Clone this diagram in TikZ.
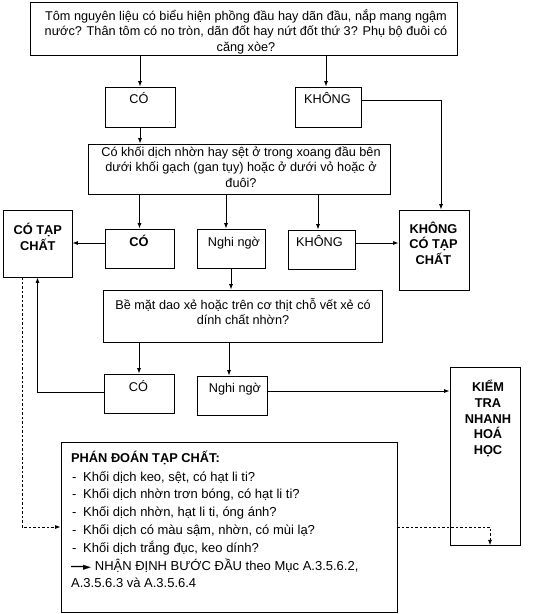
\documentclass[tikz,border=0pt]{standalone}
\usepackage{fontspec}
\setmainfont{Liberation Sans}
\newfontfamily\dejavu{DejaVu Sans}
\usetikzlibrary{arrows.meta,calc}
\begin{document}
\begin{tikzpicture}[x=1pt,y=-1pt,
  bx/.style 2 args={draw, line width=0.8pt, inner sep=0pt, minimum width=#1, minimum height=#2},
  txt/.style={font=\fontsize{12.7}{15.6}\selectfont, align=center, inner sep=0pt},
  btxt/.style={font=\fontsize{12.8}{15.4}\selectfont\bfseries, align=center, inner sep=0pt},
  ltxt/.style={font=\fontsize{13}{15}\selectfont, inner sep=0pt, anchor=base west},
  arr/.style={line width=0.8pt, -{Latex[length=5.5pt,width=4pt]}},
  darr/.style={line width=0.8pt, dash pattern=on 2.5pt off 2pt, -{Latex[length=5.5pt,width=4pt]}}]
\useasboundingbox (0,0) rectangle (555,614);
\fill[white] (0,0) rectangle (555,614);
% boxes
\node[bx={427}{53}] (top) at (243.5,28.5) {};
\node[bx={70}{40}] (co1) at (140,107) {};
\node[bx={66}{40}] (kh1) at (328,107) {};
\node[bx={302}{50}] (q2) at (239,169) {};
\node[bx={69}{39}] (co2) at (139.5,248.5) {};
\node[bx={68}{39}] (ng2) at (231,248.5) {};
\node[bx={67}{39}] (kh2) at (321.5,249.5) {};
\node[bx={69}{67}] (ctc) at (37.5,243.5) {};
\node[bx={70}{80}] (kctc) at (434,250) {};
\node[bx={279}{52}] (q3) at (242.5,316) {};
\node[bx={70}{39}] (co3) at (139,393.5) {};
\node[bx={70}{39}] (ng3) at (232,395.5) {};
\node[bx={70}{178}] (ktnh) at (485,456) {};
\node[bx={336}{170}] (bot) at (229,527) {};
% texts
\node[txt] (ttop) at (246,31.5) {Tôm nguyên liệu có biểu hiện phồng đầu hay dãn đầu, nắp mang ngậm\\ nước? Thân tôm có no tròn, dãn đốt hay nứt đốt thứ 3? Phụ bộ đuôi có\\ căng xòe?};
\node[txt, anchor=base] (tco1) at (139,103.5) {CÓ};
\node[txt, anchor=base] (tkh1) at (327.5,103.5) {KHÔNG};
\node[txt] (tq2) at (241,167) {Có khối dịch nhờn hay sệt ở trong xoang đầu bên\\ dưới khối gạch (gan tụy) hoặc ở dưới vỏ hoặc ở\\ đuôi?};
\node[btxt, anchor=base] (tco2) at (139,246.5) {CÓ};
\node[txt, anchor=base] (tng2) at (234,246.5) {Nghi ngờ};
\node[txt, anchor=base] (tkh2) at (319.5,246.5) {KHÔNG};
\node[btxt] (tctc) at (37.8,237) {CÓ TẠP\\ CHẤT};
\node[btxt] (tkctc) at (433.5,243) {KHÔNG\\ CÓ TẠP\\ CHẤT};
\node[txt] (tq3) at (243,311.5) {Bề mặt dao xẻ hoặc trên cơ thịt chỗ vết xẻ có\\ dính chất nhờn?};
\node[txt, anchor=base] (tco3) at (138.5,391.5) {CÓ};
\node[txt, anchor=base] (tng3) at (235,392.5) {Nghi ngờ};
\node[btxt, font=\fontsize{12.8}{15.8}\selectfont\bfseries] (tktnh) at (488,418.5) {KIỂM\\ TRA\\ NHANH\\ HOÁ\\ HỌC};
% bottom box lines
\node[ltxt, font=\fontsize{12.8}{15}\selectfont\bfseries] (b1) at (71,462.8) {PHÁN ĐOÁN TẠP CHẤT:};
\node[ltxt] (b2) at (72,481) {\makebox[11pt][l]{-}Khối dịch keo, sệt, có hạt li ti?};
\node[ltxt] (b3) at (72,498.8) {\makebox[11pt][l]{-}Khối dịch nhờn trơn bóng, có hạt li ti?};
\node[ltxt] (b4) at (72,516.6) {\makebox[11pt][l]{-}Khối dịch nhờn, hạt li ti, óng ánh?};
\node[ltxt] (b5) at (72,534.4) {\makebox[11pt][l]{-}Khối dịch có màu sậm, nhờn, có mùi lạ?};
\node[ltxt] (b6) at (72,552.2) {\makebox[11pt][l]{-}Khối dịch trắng đục, keo dính?};
\node[ltxt] (b7) at (71,570) {\textbf{—}\kern-1pt{\dejavu\fontsize{10.5}{10}\selectfont ►} NHẬN ĐỊNH BƯỚC ĐẦU theo Mục A.3.5.6.2,};
\node[ltxt] (b8) at (71,587.8) {A.3.5.6.3 và A.3.5.6.4};
% helper coordinates
\coordinate (a2) at ([xshift=-2pt]kh1.north);
\coordinate (a3) at ([xshift=7pt]kctc.north);
\coordinate (a6) at ([xshift=-5pt]ng2.north);
\coordinate (a7) at ([xshift=-3.5pt]kh2.north);
\coordinate (c8) at ([yshift=5.5pt]co2.west);
\coordinate (c9) at ([yshift=6.5pt]kh2.east);
\coordinate (a12) at ([xshift=-3pt]ng3.north);
\coordinate (c13) at ([yshift=1.5pt]co3.west);
\coordinate (c14) at ([yshift=4.5pt]ng3.east);
\coordinate (c15) at ([xshift=-15.5pt]ctc.south);
\coordinate (c16) at ([xshift=5pt]ktnh.south);
% connectors
\draw[arr] (co1.north |- top.south) -- (co1.north);
\draw[arr] (a2 |- top.south) -- (a2);
\draw[arr] ([yshift=7pt]kh1.east) -| (a3);
\draw[arr] (co1.south) -- (co1.south |- q2.north);
\draw[arr] (co2.north |- q2.south) -- (co2.north);
\draw[arr] (a6 |- q2.south) -- (a6);
\draw[arr] (a7 |- q2.south) -- (a7);
\draw[arr] (c8) -- (c8 -| ctc.east);
\draw[arr] (c9) -- (c9 -| kctc.west);
\draw[arr] (ng2.south) -- (ng2.south |- q3.north);
\draw[arr] (co3.north |- q3.south) -- (co3.north);
\draw[arr] (a12 |- q3.south) -- (a12);
\draw[arr] (c13) -| (ctc.south);
\draw[arr] (c14) -- (c14 -| ktnh.west);
\draw[darr] (c15) |- (bot.west);
\draw[darr] (bot.east) -| (c16);
\end{tikzpicture}
\end{document}
